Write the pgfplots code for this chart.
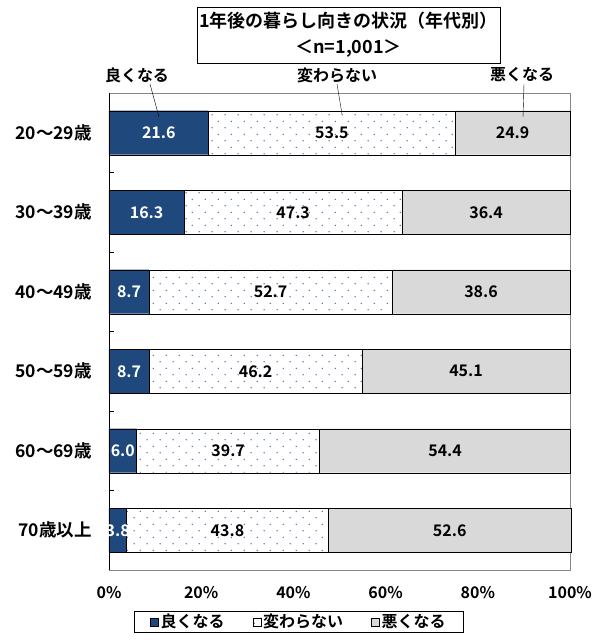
\documentclass[border=0pt]{standalone}
\usepackage{pgfplots}
\pgfplotsset{compat=1.18}
\usepackage{pgfplotstable}
\usepackage{fontspec}
\setmainfont{Noto Sans CJK JP}[BoldFont={Noto Sans CJK JP Bold}]
\usetikzlibrary{patterns}

\definecolor{goodc}{RGB}{31,73,125}
\definecolor{badc}{RGB}{217,217,217}
\definecolor{dotc}{RGB}{80,110,165}
\definecolor{framec}{RGB}{134,134,134}

% sparse staggered dots like the Excel pattern
\pgfdeclarepatternformonly{sparsedots}{\pgfqpoint{0pt}{0pt}}{\pgfqpoint{13.2pt}{13.4pt}}{\pgfqpoint{13.2pt}{13.4pt}}{%
  \pgfpathcircle{\pgfqpoint{3.3pt}{3.35pt}}{0.8pt}%
  \pgfpathcircle{\pgfqpoint{9.9pt}{10.05pt}}{0.8pt}%
  \pgfusepath{fill}}

% idx 5 = top row
\pgfplotstableread{
idx good same bad
5 21.6 53.5 24.9
4 16.3 47.3 36.4
3 8.7 52.7 38.6
2 8.7 46.2 45.1
1 6.0 39.7 54.4
0 3.8 43.8 52.6
}\data

\begin{document}
\begin{tikzpicture}[font=\fontsize{16}{19}\selectfont\bfseries]
\pgfplotsset{base/.style={
  at={(0,0)}, anchor=south west,
  scale only axis, width=461pt, height=477pt,
  xmin=0, xmax=100, ymin=-0.5, ymax=5.5,
  clip=false,
}}
\begin{axis}[base,
  xbar stacked, bar width=44pt,
  axis line style={framec},
  xtick={0,20,40,60,80,100},
  xticklabels={0\%,20\%,40\%,60\%,80\%,100\%},
  xticklabel style={anchor=north, inner sep=0pt, yshift=-16pt},
  ytick={0,1,2,3,4,5},
  yticklabels={70歳以上,60～69歳,50～59歳,40～49歳,30～39歳,20～29歳},
  yticklabel style={anchor=east, inner sep=0pt, xshift=-17pt,
    font=\fontsize{17.5}{20}\selectfont\bfseries},
  minor ytick={0.5,1.5,2.5,3.5,4.5},
  ytick pos=left,
  major tick length=0pt, minor tick length=5pt,
  tick align=inside, tick style={black, thin},
  /pgf/number format/assume math mode=true,
  legend columns=3,
  legend style={at={(0.412,-0.086)}, anchor=north, draw=black, thin,
    inner xsep=16pt, inner ysep=1pt,
    /tikz/every even column/.append style={column sep=26pt},
    font=\fontsize{16}{19}\selectfont\bfseries},
  legend image code/.code={\draw[#1, draw=black, thin] (0pt,-4pt) rectangle (8pt,4pt);},
]
\addplot[fill=goodc, draw=black, thin] table[x=good, y=idx] {\data};
\addlegendentry{良くなる}
\addplot[fill=white, draw=black, thin, postaction={pattern=sparsedots, pattern color=dotc}] table[x=same, y=idx] {\data};
\addlegendentry{変わらない}
\addplot[fill=badc, draw=black, thin] table[x=bad, y=idx] {\data};
\addlegendentry{悪くなる}
\draw[black, thin] (rel axis cs:0,0) -- (rel axis cs:0,1);
\end{axis}

% value labels centred in each segment
\begin{axis}[base, hide axis,
  point meta=explicit,
  nodes near coords={\pgfmathprintnumber[fixed,fixed zerofill,precision=1,assume math mode=true]{\pgfplotspointmeta}},
  every node near coord/.append style={anchor=center, inner sep=0pt,
    font=\fontsize{16}{19}\selectfont\bfseries},
]
\addplot[draw=none, every node near coord/.append style={text=white}]
  table[x expr=\thisrow{good}/2, y=idx, meta=good] {\data};
\addplot[draw=none, every node near coord/.append style={text=black}]
  table[x expr=\thisrow{good}+\thisrow{same}/2, y=idx, meta=same] {\data};
\addplot[draw=none, every node near coord/.append style={text=black}]
  table[x expr=\thisrow{good}+\thisrow{same}+\thisrow{bad}/2, y=idx, meta=bad] {\data};
\end{axis}

% title box and callouts
\node[draw=black, thin, fill=white, align=center, minimum width=303pt, minimum height=56pt,
  inner sep=2pt, font=\fontsize{18}{26}\selectfont\bfseries]
  at (239.5pt,535pt) {1年後の暮らし向きの状況（年代別）\\＜n=1,001＞};
\node at (28pt,495pt) {良くなる};
\node at (228pt,495pt) {変わらない};
\node at (413pt,495pt) {悪くなる};
\draw[black, thin] (41pt,486pt) -- (50pt,453pt);
\draw[black, thin] (228pt,486pt) -- (233pt,456pt);
\draw[black, thin] (415pt,486pt) -- (414pt,453pt);

\pgfresetboundingbox
\path[use as bounding box] (-109pt,-70pt) rectangle (490pt,570pt);
\end{tikzpicture}
\end{document}
